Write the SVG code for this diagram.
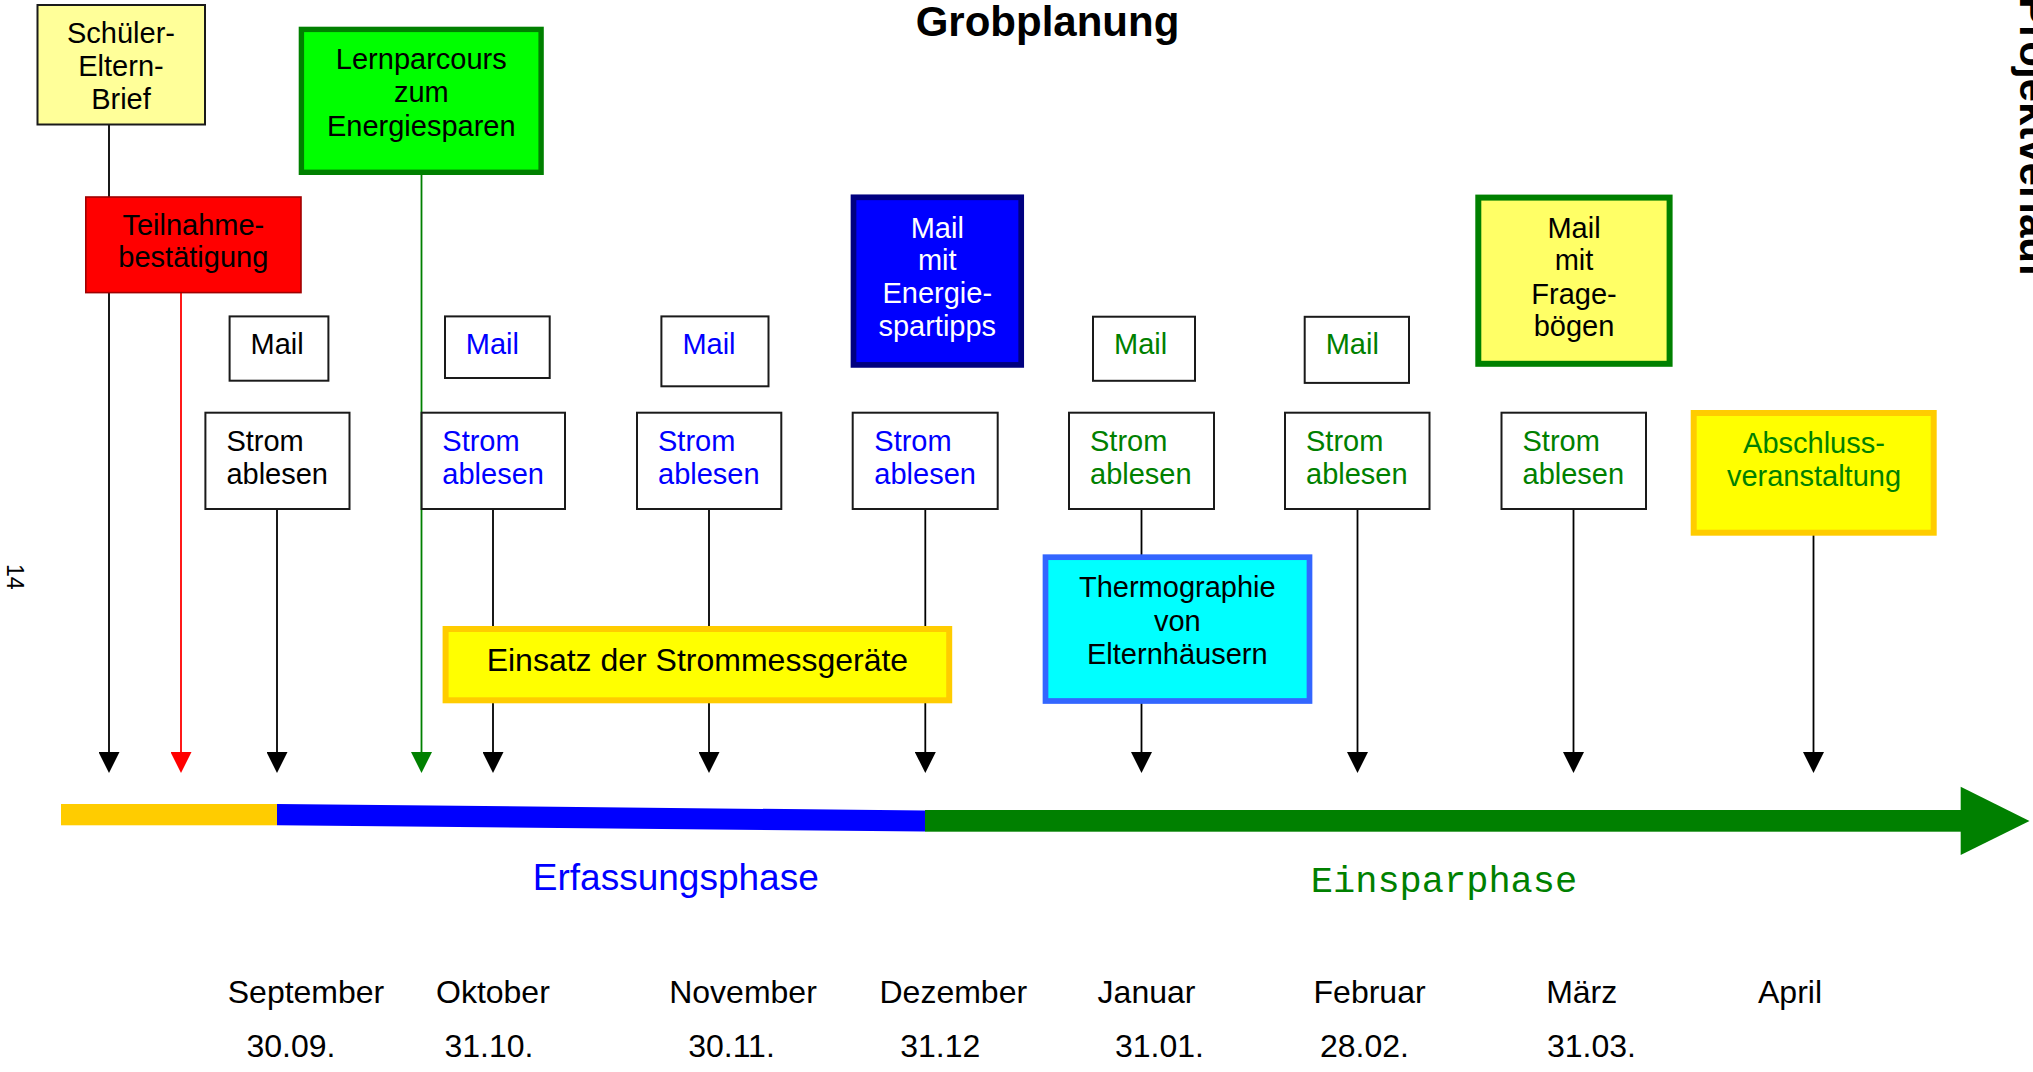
<svg xmlns="http://www.w3.org/2000/svg" width="2033" height="1072" viewBox="0 0 2033 1072">
<style>
text{font-family:"Liberation Sans",Arial,sans-serif;font-size:29px;fill:#000}
.c{text-anchor:middle}
.thin{fill:#fff;stroke:#1a1a1a;stroke-width:2}
.con{stroke-width:1.8;fill:none}
.k{stroke:#000}
.r{stroke:#ff0000}
.g{stroke:#008000}
.blue{fill:#0000ff}
.grn{fill:#008000}
.lbl{font-size:32px}
</style>
<defs>
<marker id="ak" markerUnits="userSpaceOnUse" markerWidth="21" markerHeight="21" viewBox="0 0 21 21" refX="0" refY="10.5" orient="auto"><path d="M0,0 L21,10.5 L0,21 z" fill="#000"/></marker>
<marker id="ar" markerUnits="userSpaceOnUse" markerWidth="21" markerHeight="21" viewBox="0 0 21 21" refX="0" refY="10.5" orient="auto"><path d="M0,0 L21,10.5 L0,21 z" fill="#ff0000"/></marker>
<marker id="ag" markerUnits="userSpaceOnUse" markerWidth="21" markerHeight="21" viewBox="0 0 21 21" refX="0" refY="10.5" orient="auto"><path d="M0,0 L21,10.5 L0,21 z" fill="#008000"/></marker>
</defs>
<rect width="2033" height="1072" fill="#fff"/>

<text x="1047.5" y="36" class="c" style="font-size:42px;font-weight:bold">Grobplanung</text>
<text transform="translate(2020,277) rotate(90)" style="font-size:42px;font-weight:bold;text-anchor:end">Projektverlauf</text>
<text transform="translate(7,564) rotate(90)" style="font-size:23px">14</text>

<g id="connectors">
<line class="con k" x1="109" y1="125" x2="109" y2="752" marker-end="url(#ak)"/>
<line class="con r" x1="181" y1="293" x2="181" y2="752" marker-end="url(#ar)"/>
<line class="con k" x1="277" y1="509" x2="277" y2="752" marker-end="url(#ak)"/>
<line class="con g" x1="421.5" y1="175" x2="421.5" y2="752" marker-end="url(#ag)"/>
<line class="con k" x1="493" y1="509" x2="493" y2="752" marker-end="url(#ak)"/>
<line class="con k" x1="709" y1="509" x2="709" y2="752" marker-end="url(#ak)"/>
<line class="con k" x1="925.3" y1="509" x2="925.3" y2="752" marker-end="url(#ak)"/>
<line class="con k" x1="1141.5" y1="509" x2="1141.5" y2="752" marker-end="url(#ak)"/>
<line class="con k" x1="1357.5" y1="509" x2="1357.5" y2="752" marker-end="url(#ak)"/>
<line class="con k" x1="1573.5" y1="509" x2="1573.5" y2="752" marker-end="url(#ak)"/>
<line class="con k" x1="1813.5" y1="532" x2="1813.5" y2="752" marker-end="url(#ak)"/>
</g>

<g id="timeline">
<rect x="61" y="804" width="216" height="21.3" fill="#ffcc00"/>
<polygon points="277,804 925,810.5 925,831.5 277,825.3" fill="#0000ff"/>
<rect x="925" y="810" width="1036" height="21.7" fill="#008000"/>
<polygon points="1960.7,786.7 2029.5,821 1960.7,855" fill="#008000"/>
</g>

<g id="n-schueler">
<rect x="37.5" y="5" width="167.5" height="119.5" fill="#ffff99" stroke="#1a1a1a" stroke-width="2"/>
<text class="c" x="121" y="42.5">Schüler-</text>
<text class="c" x="121" y="75.5">Eltern-</text>
<text class="c" x="121" y="108.5">Brief</text>
</g>
<g id="n-lernparcours">
<rect x="301.4" y="29.4" width="239.7" height="142.9" fill="#00ff00" stroke="#008000" stroke-width="5.4"/>
<text class="c" x="421.3" y="69">Lernparcours</text>
<text class="c" x="421.3" y="102">zum</text>
<text class="c" x="421.3" y="135.5">Energiesparen</text>
</g>
<g id="n-teilnahme">
<rect x="85.8" y="197" width="215.2" height="95.6" fill="#ff0000" stroke="#a00000" stroke-width="1.6"/>
<text class="c" x="193.3" y="235">Teilnahme-</text>
<text class="c" x="193.3" y="266.7">bestätigung</text>
</g>

<g id="n-mail1"><rect class="thin" x="229.6" y="316.4" width="98.8" height="64.3"/><text x="250.5" y="353.5">Mail</text></g>
<g id="n-mail2"><rect class="thin" x="445" y="316.4" width="104.7" height="61.6"/><text class="blue" x="465.8" y="353.5">Mail</text></g>
<g id="n-mail3"><rect class="thin" x="661.4" y="316.4" width="107.1" height="69.9"/><text class="blue" x="682.4" y="353.5">Mail</text></g>
<g id="n-mail4"><rect class="thin" x="1093" y="316.7" width="102" height="64.1"/><text class="grn" x="1114" y="353.5">Mail</text></g>
<g id="n-mail5"><rect class="thin" x="1304.7" y="316.8" width="104.3" height="66.1"/><text class="grn" x="1325.7" y="353.5">Mail</text></g>

<g id="n-strom1"><rect class="thin" x="205.4" y="412.7" width="144.1" height="96.3"/><text x="226.4" y="451">Strom</text><text x="226.4" y="484">ablesen</text></g>
<g id="n-strom2"><rect class="thin" x="421.6" y="412.7" width="143.4" height="96.3"/><text class="blue" x="442.3" y="451">Strom</text><text class="blue" x="442.3" y="484">ablesen</text></g>
<g id="n-strom3"><rect class="thin" x="637" y="412.7" width="144.3" height="96.3"/><text class="blue" x="658" y="451">Strom</text><text class="blue" x="658" y="484">ablesen</text></g>
<g id="n-strom4"><rect class="thin" x="852.7" y="412.7" width="145" height="96.3"/><text class="blue" x="874.3" y="451">Strom</text><text class="blue" x="874.3" y="484">ablesen</text></g>
<g id="n-strom5"><rect class="thin" x="1069" y="412.7" width="145" height="96.3"/><text class="grn" x="1090" y="451">Strom</text><text class="grn" x="1090" y="484">ablesen</text></g>
<g id="n-strom6"><rect class="thin" x="1285" y="412.7" width="144.5" height="96.3"/><text class="grn" x="1306" y="451">Strom</text><text class="grn" x="1306" y="484">ablesen</text></g>
<g id="n-strom7"><rect class="thin" x="1501.5" y="412.7" width="144.5" height="96.3"/><text class="grn" x="1522.5" y="451">Strom</text><text class="grn" x="1522.5" y="484">ablesen</text></g>

<g id="n-mail-energie">
<rect x="853.5" y="197.3" width="167.7" height="167.6" fill="#0000ff" stroke="#000080" stroke-width="5.7"/>
<text class="c" x="937.3" y="237.5" style="fill:#fff">Mail</text>
<text class="c" x="937.3" y="270.2" style="fill:#fff">mit</text>
<text class="c" x="937.3" y="303.3" style="fill:#fff">Energie-</text>
<text class="c" x="937.3" y="336.2" style="fill:#fff">spartipps</text>
</g>
<g id="n-mail-frage">
<rect x="1478.3" y="197.6" width="191.3" height="166.2" fill="#ffff66" stroke="#008000" stroke-width="6"/>
<text class="c" x="1574" y="237.5">Mail</text>
<text class="c" x="1574" y="270.4">mit</text>
<text class="c" x="1574" y="303.6">Frage-</text>
<text class="c" x="1574" y="336.4">bögen</text>
</g>
<g id="n-abschluss">
<rect x="1693.7" y="413" width="240" height="119.7" fill="#ffff00" stroke="#ffcc00" stroke-width="6"/>
<text class="c grn" x="1814" y="452.7">Abschluss-</text>
<text class="c grn" x="1814" y="486">veranstaltung</text>
</g>
<g id="n-thermo">
<rect x="1045.5" y="557.2" width="264" height="143.8" fill="#00ffff" stroke="#3366ff" stroke-width="5.7"/>
<text class="c" x="1177.3" y="597">Thermographie</text>
<text class="c" x="1177.3" y="630.5">von</text>
<text class="c" x="1177.3" y="664">Elternhäusern</text>
</g>
<g id="n-einsatz">
<rect x="445.6" y="629" width="503.6" height="71.3" fill="#ffff00" stroke="#ffcc00" stroke-width="6"/>
<text class="c" x="697.4" y="670.5" style="font-size:32px">Einsatz der Strommessgeräte</text>
</g>

<g id="labels">
<text class="c blue" x="675.8" y="890" style="font-size:37px">Erfassungsphase</text>
<text class="c grn" x="1444" y="891.5" style="font-size:37px;font-family:'Liberation Mono','Courier New',monospace">Einsparphase</text>
<text class="c lbl" x="306" y="1003.3">September</text>
<text class="c lbl" x="492.9" y="1003.3">Oktober</text>
<text class="c lbl" x="743" y="1003.3">November</text>
<text class="c lbl" x="953.3" y="1003.3">Dezember</text>
<text class="c lbl" x="1146.5" y="1003.3">Januar</text>
<text class="c lbl" x="1369.6" y="1003.3">Februar</text>
<text class="c lbl" x="1581.7" y="1003.3">März</text>
<text class="c lbl" x="1790" y="1003.3">April</text>
<text class="c lbl" x="291" y="1056.7">30.09.</text>
<text class="c lbl" x="489" y="1056.7">31.10.</text>
<text class="c lbl" x="731.5" y="1056.7">30.11.</text>
<text class="c lbl" x="940.3" y="1056.7">31.12</text>
<text class="c lbl" x="1159.5" y="1056.7">31.01.</text>
<text class="c lbl" x="1364.5" y="1056.7">28.02.</text>
<text class="c lbl" x="1591.4" y="1056.7">31.03.</text>
</g>
</svg>
